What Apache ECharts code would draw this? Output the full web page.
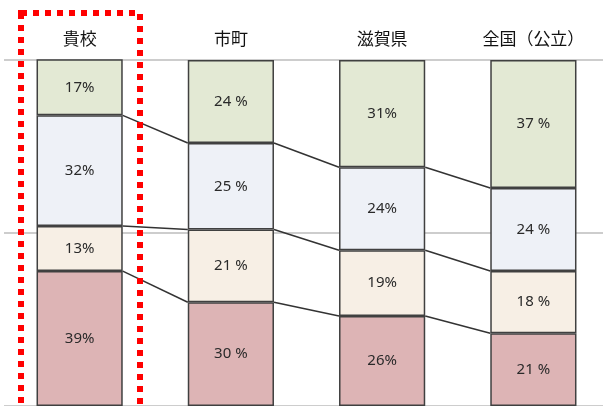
<!DOCTYPE html>
<html>
<head>
<meta charset="utf-8">
<script src="https://cdn.jsdelivr.net/npm/echarts@6/dist/echarts.min.js"></script>
<style>
  html, body { margin: 0; padding: 0; background: #fff; overflow: hidden; }
  #chart { width: 612px; height: 406px; }
</style>
</head>
<body>
<div id="chart"></div>
<script>
var categories = ['貴校', '市町', '滋賀県', '全国（公立）'];
// 下から順に
var redVals   = [39, 30, 26, 21];
var beigeVals = [13, 21, 19, 18];
var blueVals  = [32, 25, 24, 24];
var greenVals = [17, 24, 31, 37];
// "24 %" のように数字と%の間に空白がある列
var spaced = [false, true, false, true];

var stacks = [redVals, beigeVals, blueVals];

// 棒の間をつなぐ線 (境界の累積値)
var links = [];
for (var i = 0; i < categories.length - 1; i++) {
    var l = 0, r = 0;
    for (var k = 0; k < stacks.length; k++) {
        l += stacks[k][i];
        r += stacks[k][i + 1];
        links.push([i, l, r]);
    }
}

var myChart = echarts.init(document.getElementById('chart'));

function barSeries(name, vals, color) {
    return {
        name: name,
        type: 'bar',
        stack: 'all',
        barWidth: '57%',
        clip: true,
        data: vals,
        itemStyle: { color: color, borderColor: '#404040', borderWidth: 1.5 },
        label: {
            show: true,
            position: 'inside',
            fontSize: 15,
            fontFamily: 'Noto Sans',
            color: '#2a2a2a',
            formatter: function (p) {
                return p.value + (spaced[p.dataIndex] ? ' %' : '%');
            }
        },
        z: 2
    };
}

var option = {
    animation: false,
    grid: { left: 4, top: 60, width: 605, height: 348 },
    xAxis: {
        type: 'category',
        position: 'top',
        data: categories,
        axisLine: { show: false },
        axisTick: { show: false },
        axisLabel: {
            fontSize: 17,
            fontFamily: 'Noto Sans CJK JP',
            color: '#111',
            margin: 13
        }
    },
    yAxis: {
        type: 'value',
        min: 0,
        max: 100,
        interval: 50,
        axisLabel: { show: false },
        axisLine: { show: false },
        axisTick: { show: false },
        splitLine: { lineStyle: { color: '#bdbdbd', width: 1.5 } }
    },
    series: [
        barSeries('red', redVals, '#ddb4b5'),
        barSeries('beige', beigeVals, '#f7efe5'),
        barSeries('blue', blueVals, '#eef1f7'),
        barSeries('green', greenVals, '#e3e9d4'),
        {
            type: 'custom',
            data: links,
            z: 3,
            renderItem: function (params, api) {
                var idx = api.value(0);
                var p1 = api.coord([idx, api.value(1)]);
                var p2 = api.coord([idx + 1, api.value(2)]);
                var half = api.size([1, 0])[0] * 0.57 / 2;
                return {
                    type: 'line',
                    shape: { x1: p1[0] + half, y1: p1[1], x2: p2[0] - half, y2: p2[1] },
                    style: { stroke: '#333', lineWidth: 1.5 }
                };
            }
        }
    ],
    graphic: [{
        type: 'rect',
        z: 100,
        shape: { x: 21, y: 13, width: 119, height: 430 },
        style: { fill: null, stroke: '#ff0000', lineWidth: 6, lineDash: [6, 6] }
    }]
};

myChart.setOption(option);
window.addEventListener('resize', function () {
    myChart.resize();
});
</script>
</body>
</html>
